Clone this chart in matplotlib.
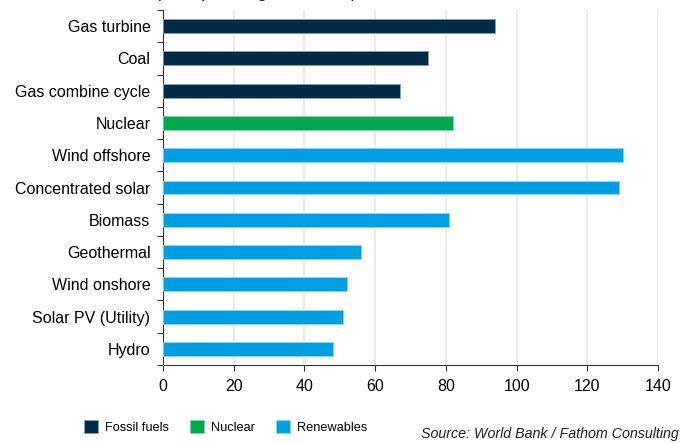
import numpy as np
import matplotlib.pyplot as plt
from matplotlib.patches import Patch

plt.rcParams['font.family'] = ['Liberation Sans', 'DejaVu Sans']

# datos
tecnologias = ["Gas turbine", "Coal", "Gas combine cycle", "Nuclear", "Wind offshore",
               "Concentrated solar", "Biomass", "Geothermal", "Wind onshore",
               "Solar PV (Utility)", "Hydro"]
costes = [94, 75, 67, 82, 130, 129, 81, 56, 52, 51, 48]
grupos = ["Fossil fuels", "Fossil fuels", "Fossil fuels", "Nuclear", "Renewables",
          "Renewables", "Renewables", "Renewables", "Renewables", "Renewables", "Renewables"]
x_ticks = [0, 20, 40, 60, 80, 100, 120, 140]

colores = {"Fossil fuels": "#022b4a", "Nuclear": "#00a94f", "Renewables": "#009fe3"}
bordes = {"Fossil fuels": "#8aa0b4", "Nuclear": "#7fd8a4", "Renewables": "#8fd6f5"}

# crear gráfica
fig = plt.figure(figsize=(6.81, 4.43), dpi=100)
ax = fig.add_axes([163 / 681, 1 - 365 / 443, 495 / 681, 355 / 443])

y = np.arange(len(tecnologias))
ax.barh(y, costes, height=0.43,
        color=[colores[g] for g in grupos],
        edgecolor=[bordes[g] for g in grupos], linewidth=0.6, zorder=3)

ax.set_ylim(len(tecnologias) - 0.5, -0.5)
ax.set_xlim(0, 140)
ax.set_xticks(x_ticks)
ax.tick_params(axis="x", labelsize=11.5, length=4, width=0.8, color="#333333", pad=6)

# ticks entre categorias, etiquetas en el centro
ax.set_yticks(np.arange(-0.5, len(tecnologias), 1))
ax.set_yticklabels([])
ax.set_yticks(y, minor=True)
ax.set_yticklabels(tecnologias, minor=True, fontsize=11.5)
ax.tick_params(axis="y", which="major", length=4, width=0.8, color="#333333")
ax.tick_params(axis="y", which="minor", length=0, pad=9)

ax.grid(axis="x", color="#e6e6e6", linewidth=1.1, zorder=0)
for s in ["top", "right"]:
    ax.spines[s].set_visible(False)
for s in ["left", "bottom"]:
    ax.spines[s].set_color("#333333")
    ax.spines[s].set_linewidth(0.8)

# titulo cortado arriba
fig.text(155 / 681, 1 + 3 / 443, "(US$ per megawatt hour)", fontsize=13,
         va="baseline", ha="left", color="#222222")

# leyenda
handles = [Patch(facecolor=colores[k], edgecolor=bordes[k], linewidth=0.6, label=k)
           for k in colores]
fig.legend(handles=handles, loc="center left", bbox_to_anchor=(72 / 681, 1 - 427 / 443),
           ncol=3, frameon=False, fontsize=9.2, handlelength=1.1, handleheight=1.1,
           columnspacing=1.6, handletextpad=0.6)

fig.text(679 / 681, 2 / 443, "Source: World Bank / Fathom Consulting", fontsize=10.3,
         style="italic", ha="right", va="bottom", color="#222222")

fig.savefig("out.png", dpi=100)
plt.close(fig)
